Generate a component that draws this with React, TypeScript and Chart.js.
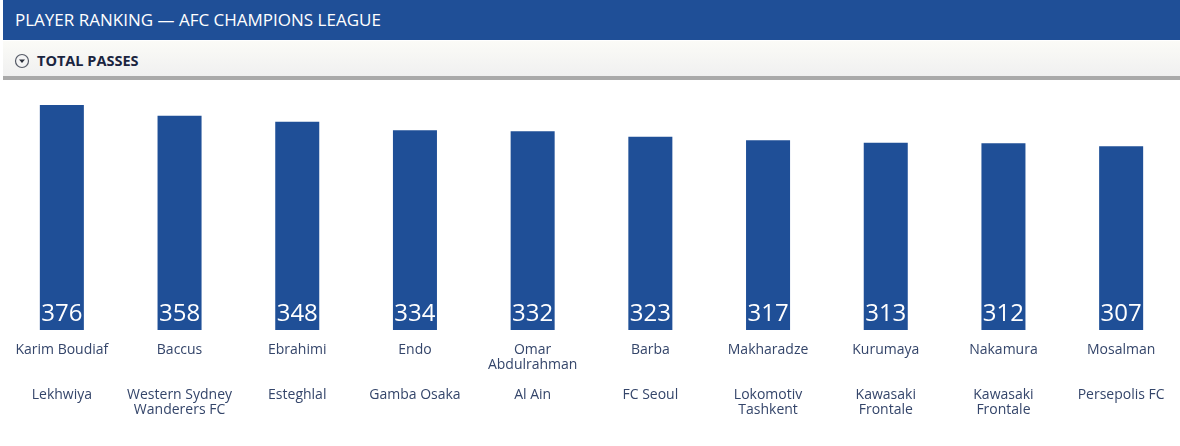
import React, { useEffect, useRef } from "react";
import { Chart, registerables } from "chart.js";

Chart.register(...registerables);

const players = ["Karim Boudiaf", "Baccus", "Ebrahimi", "Endo", "Omar\nAbdulrahman", "Barba", "Makharadze", "Kurumaya", "Nakamura", "Mosalman"];
const teams = ["Lekhwiya", "Western Sydney\nWanderers FC", "Esteghlal", "Gamba Osaka", "Al Ain", "FC Seoul", "Lokomotiv\nTashkent", "Kawasaki\nFrontale", "Kawasaki\nFrontale", "Persepolis FC"];
const passes = [376, 358, 348, 334, 332, 323, 317, 313, 312, 307];

const BLUE = "#1f4f97";
const LABEL_COLOR = "#34456a";
const FONT = "'Open Sans', 'Noto Sans', sans-serif";

function buildLabel(i: number): string[] {
  const n = players[i].split("\n");
  const t = teams[i].split("\n");
  while (n.length < 3) n.push("");
  while (t.length < 2) t.push("");
  return [...n, ...t];
}

const valuePlugin = {
  id: "valueLabels",
  afterDatasetsDraw(chart: any) {
    const ctx = chart.ctx;
    const meta = chart.getDatasetMeta(0);
    ctx.save();
    ctx.fillStyle = "#ffffff";
    ctx.font = `24px ${FONT}`;
    ctx.textAlign = "center";
    ctx.textBaseline = "alphabetic";
    meta.data.forEach((bar: any, i: number) => {
      ctx.fillText(String(passes[i]), bar.x, bar.base - 9);
    });
    ctx.restore();
  },
};

export default function App() {
  const ref = useRef<HTMLCanvasElement | null>(null);

  useEffect(() => {
    document.body.style.margin = "0";
    const labels = passes.map((_, i) => buildLabel(i));
    const chart = new Chart(ref.current as HTMLCanvasElement, {
      type: "bar",
      data: {
        labels,
        datasets: [
          {
            data: passes,
            backgroundColor: BLUE,
            borderWidth: 0,
            barPercentage: 0.374,
            categoryPercentage: 1,
          },
        ],
      },
      options: {
        animation: false,
        responsive: true,
        maintainAspectRatio: false,
        layout: { padding: { top: 25, bottom: 23, left: 0, right: 0 } },
        plugins: { legend: { display: false }, tooltip: { enabled: false } },
        scales: {
          x: {
            grid: { display: false },
            border: { display: false },
            ticks: {
              color: LABEL_COLOR,
              font: { family: FONT, size: 14, lineHeight: "15px" },
              padding: 5,
              autoSkip: false,
              maxRotation: 0,
              minRotation: 0,
            },
          },
          y: { display: false, min: 0, max: 376 },
        },
      },
      plugins: [valuePlugin],
    });
    return () => chart.destroy();
  }, []);

  return (
    <div style={{ position: "relative", width: 1180, height: 446, background: "#fff", overflow: "hidden", fontFamily: FONT }}>
      <div
        style={{
          position: "absolute",
          left: 3,
          top: 0,
          width: 1177,
          height: 40,
          background: BLUE,
          color: "#ffffff",
          fontSize: 17,
          lineHeight: "40px",
          paddingLeft: 12,
          boxSizing: "border-box",
          whiteSpace: "nowrap",
        }}
      >
        PLAYER RANKING — AFC CHAMPIONS LEAGUE
      </div>
      <div
        style={{
          position: "absolute",
          left: 3,
          top: 41,
          width: 1177,
          height: 35,
          background: "linear-gradient(#fbfbf7, #f0f0f0)",
          borderBottom: "4px solid #a9a9a9",
          boxSizing: "content-box",
        }}
      >
        <svg width="16" height="16" style={{ position: "absolute", left: 11, top: 12 }}>
          <circle cx="8" cy="8" r="6.5" fill="#f4f4f4" stroke="#555a66" strokeWidth="1.2" />
          <polygon points="5,6.5 11,6.5 8,10" fill="#2a2f3a" />
        </svg>
        <div
          style={{
            position: "absolute",
            left: 34,
            top: 1,
            lineHeight: "38px",
            fontSize: 14.5,
            fontWeight: 700,
            color: "#1b2540",
            whiteSpace: "nowrap",
          }}
        >
          TOTAL PASSES
        </div>
      </div>
      <div style={{ position: "absolute", left: 3, top: 80, width: 1177, height: 366 }}>
        <canvas ref={ref} />
      </div>
    </div>
  );
}
